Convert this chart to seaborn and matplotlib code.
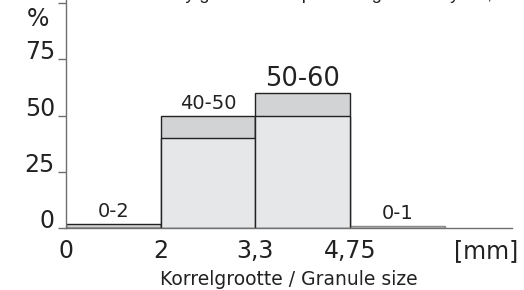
import matplotlib
matplotlib.use("Agg")
import matplotlib.pyplot as plt
import seaborn as sns

# --- data ---
ranges = ["0-2", "40-50", "50-60", "0-1"]   # % range per size class
low_pct = [0, 40, 50, 0]                     # lower bound of the range
high_pct = [2, 50, 60, 1]                    # upper bound of the range
edge_labels = ["0", "2", "3,3", "4,75", "[mm]"]
y_ticks = [0, 25, 50, 75, 100]

light = "#e6e7e8"
dark = "#d1d3d4"
axis_grey = "#707070"
ink = "#222222"

sns.set_style("ticks")
plt.rcParams["font.family"] = ["DejaVu Sans"]

fig = plt.figure(figsize=(5.24, 2.90), dpi=100)
ax = fig.add_axes([66 / 524, 62 / 290, 446 / 524, 228 / 290])

# upper bound first (darker), then the lower bound on top of it (lighter)
sns.barplot(x=ranges, y=high_pct, color=dark, saturation=1, width=1,
            edgecolor=ink, linewidth=1, ax=ax)
n = len(ax.patches)
sns.barplot(x=ranges, y=low_pct, color=light, saturation=1, width=1,
            edgecolor=ink, linewidth=1, ax=ax)

# last class only has a faint grey outline
for i, p in enumerate(ax.patches):
    if i % n == 3:
        p.set_edgecolor("#8a8a8a")

# range labels above the bars
for i, (txt, h) in enumerate(zip(ranges, high_pct)):
    size = 18.5 if txt == "50-60" else 14
    ax.text(i, h + 3.0, txt, ha="center", va="baseline", fontsize=size, color=ink)

ax.set_xlim(-0.5, 4.21)
ax.set_ylim(0, 101.4)

ax.set_xticks([-0.5, 0.5, 1.5, 2.5, 3.94])
ax.set_xticklabels(edge_labels, fontsize=17, color=ink)
ax.tick_params(axis="x", length=0, pad=8)

ax.set_yticks(y_ticks)
ax.set_yticklabels(["0", "25", "50", "75", ""], fontsize=17, color=ink)
ax.tick_params(axis="y", length=6, width=1, color=axis_grey, pad=2)
for lab in ax.get_yticklabels():
    lab.set_verticalalignment("baseline")

ax.set_xlabel("Korrelgrootte / Granule size", fontsize=13.5, color=ink, labelpad=5)
ax.set_ylabel("")

sns.despine(ax=ax)
for side in ["left", "bottom"]:
    ax.spines[side].set_color(axis_grey)
    ax.spines[side].set_linewidth(1)

fig.text(38 / 524, 1 - 19 / 290, "%", ha="center", va="center", fontsize=17, color=ink)

# title line that is cut off at the top of the picture
fig.text(80 / 524, 1.004, "Distribution by granule size percentage of all by vol,",
         ha="left", va="baseline", fontsize=13, color=ink, family="Liberation Sans")

fig.savefig("out.png", dpi=100)
